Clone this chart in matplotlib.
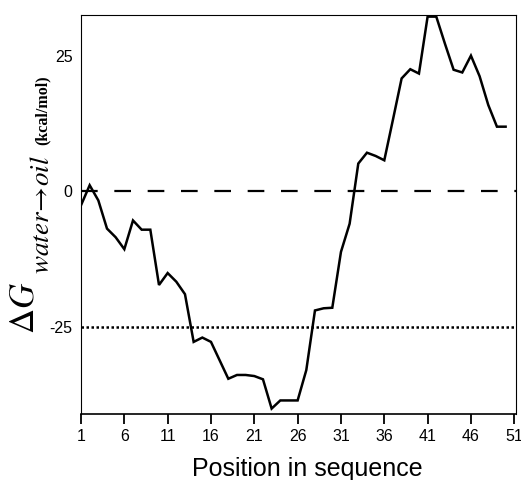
import matplotlib
matplotlib.use("Agg")
import matplotlib.pyplot as plt

# ── data ─────────────────────────────────────────────────────────────────────

positions = list(range(1, 51))
delta_g = [
    -2.6, 1.1, -1.7, -6.9, -8.5, -10.7, -5.4, -7.1, -7.1, -17.3,
    -15.1, -16.7, -19.0, -27.8, -27.0, -27.8, -31.2, -34.6, -33.9, -33.9,
    -34.1, -34.7, -40.1, -38.6, -38.6, -38.6, -33.0, -22.0, -21.6, -21.5,
    -11.2, -6.0, 5.1, 7.1, 6.5, 5.7, 13.2, 20.8, 22.5, 21.7,
    32.2, 32.2, 27.2, 22.4, 21.9, 25.0, 21.2, 15.9, 11.9, 11.9,
]
zero_level = 0
threshold = -25
xticks = [1, 6, 11, 16, 21, 26, 31, 36, 41, 46, 51]
yticks = [25, 0, -25]

W, H = 521, 480
plt.rcParams["mathtext.fontset"] = "stix"

# ── figure ───────────────────────────────────────────────────────────────────

fig = plt.figure(figsize=(W / 100, H / 100), dpi=100)
ax = fig.add_axes([81 / W, 1 - 414 / H, (516 - 81) / W, (414 - 15) / H])

ax.plot(positions, delta_g, color="black", linewidth=1.8, solid_joinstyle="miter")
ax.axhline(zero_level, color="black", linewidth=1.6, dashes=(7.5, 7.5))
ax.axhline(threshold, color="black", linewidth=1.8, dashes=(1, 1))

ax.set_xlim(1, 51.2)
ax.set_ylim(-41.1, 32.5)

ax.set_xticks(xticks)
ax.set_xticklabels([str(t) for t in xticks], family="Liberation Sans", fontsize=11.5)
ax.set_yticks(yticks)
ax.set_yticklabels([str(t) for t in yticks], family="Liberation Sans", fontsize=11.5)
ax.tick_params(axis="x", direction="out", length=7, width=1.3, pad=4)
ax.tick_params(axis="y", length=0, pad=6)

for side in ["left", "top", "right"]:
    ax.spines[side].set_linewidth(0.8)
ax.spines["bottom"].set_linewidth(1.2)

ax.set_xlabel("Position in sequence", family="Liberation Sans", fontsize=18)
ax.xaxis.set_label_coords(0.52, -0.108)

# y label: big ΔG, larger italic subscript, units small in bold serif
fig.text(23 / W, 1 - 334 / H, r"$\Delta G$", rotation=90, ha="center",
         va="bottom", fontsize=25)
fig.text(42 / W, 1 - 274 / H, r"$\mathit{water}\!\rightarrow\!\mathit{oil}$",
         rotation=90, ha="center", va="bottom", fontsize=19.5)
fig.text(43 / W, 1 - 110 / H, "(kcal/mol)", rotation=90, ha="center",
         va="center", family="Liberation Serif", fontweight="bold", fontsize=11.5)

fig.savefig("out.png", dpi=100)
